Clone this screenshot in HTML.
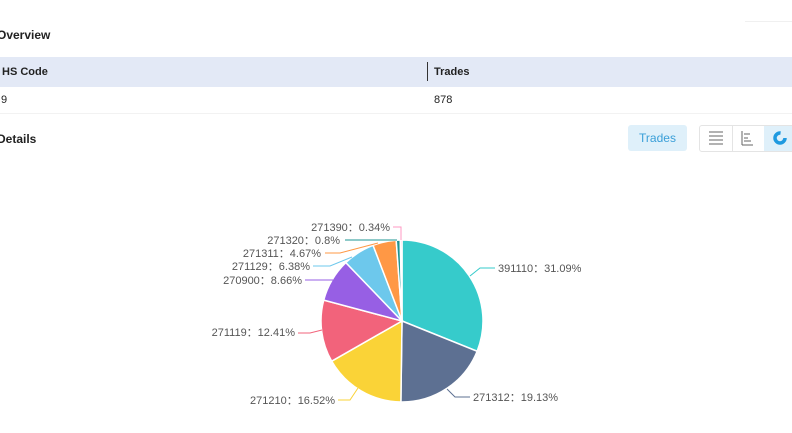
<!DOCTYPE html>
<html><head><meta charset="utf-8"><style>
body{margin:0;width:792px;height:433px;background:#fff;overflow:hidden;position:relative;font-family:"Liberation Sans","DejaVu Sans",sans-serif;color:#222}
.a{position:absolute}
.h{font-weight:bold;font-size:12px;color:#222}
</style></head><body>
<div class="a" style="left:745px;top:21px;width:47px;height:1px;background:#f0f0f0"></div>
<div class="a h" style="left:-3px;top:28px">Overview</div>
<div class="a" style="left:0;top:57px;width:792px;height:30px;background:#e3e9f6"></div>
<div class="a h" style="left:2px;top:66px;font-size:11px">HS Code</div>
<div class="a" style="left:427px;top:62px;width:1px;height:19px;background:#333"></div>
<div class="a h" style="left:434px;top:66px;font-size:11px">Trades</div>
<div class="a" style="left:0;top:87px;width:792px;height:26px;border-bottom:1px solid #f2f2f2"></div>
<div class="a" style="left:1px;top:94px;font-size:11px">9</div>
<div class="a" style="left:434px;top:94px;font-size:11px">878</div>
<div class="a h" style="left:-3px;top:132px">Details</div>
<div class="a" style="left:628px;top:125px;width:59px;height:26px;background:#dff0fa;border-radius:3px;color:#3a9fd8;font-size:12px;text-align:center;line-height:26px">Trades</div>
<div class="a" style="left:699px;top:125px;width:100px;height:25px;border:1px solid #e4e4e4;border-radius:3px"></div>
<div class="a" style="left:732px;top:126px;width:1px;height:25px;background:#e4e4e4"></div>
<div class="a" style="left:764px;top:126px;width:28px;height:25px;background:#dff0fa"></div>
<svg class="a" style="left:0;top:0" width="792" height="433">
<g stroke="#666" stroke-width="1">
<line x1="709" y1="132" x2="723" y2="132"/><line x1="709" y1="136" x2="723" y2="136"/><line x1="709" y1="140" x2="723" y2="140"/><line x1="709" y1="144" x2="723" y2="144"/>
<line x1="742" y1="131" x2="742" y2="145"/><line x1="742" y1="145" x2="753" y2="145"/><line x1="744" y1="134" x2="750" y2="134"/><line x1="744" y1="138" x2="748" y2="138"/><line x1="744" y1="141" x2="751" y2="141"/>
</g>
<circle cx="780" cy="138" r="5" fill="none" stroke="#1f9ae0" stroke-width="3.5" stroke-dasharray="24 8"/>
<g id="pie"></g>
<g fill="none" stroke-width="1">
<polyline stroke="#36cbcb" points="470,276 480,268 495,268"/>
<polyline stroke="#5d7092" points="447,389 455,397 470,397"/>
<polyline stroke="#fad337" points="358,388 350,400 338,400"/>
<polyline stroke="#f2637b" points="322,330 310,333 298,333"/>
<polyline stroke="#975fe4" points="333,280 318,280 305,280"/>
<polyline stroke="#6dc8ec" points="352,257 330,266 313,266"/>
<polyline stroke="#ff9845" points="378,243 340,253 325,253"/>
<polyline stroke="#1e9493" points="397,240 360,240 345,240"/>
<polyline stroke="#ff99c3" points="401,240 401,227 393,227"/>
</g>
<g font-size="11" fill="#555">
<text x="498" y="272">391110：31.09%</text>
<text x="473" y="401">271312：19.13%</text>
<text x="335" y="404" text-anchor="end">271210：16.52%</text>
<text x="295" y="336" text-anchor="end">271119：12.41%</text>
<text x="302" y="284" text-anchor="end">270900：8.66%</text>
<text x="310" y="270" text-anchor="end">271129：6.38%</text>
<text x="321" y="257" text-anchor="end">271311：4.67%</text>
<text x="340" y="244" text-anchor="end">271320：0.8%</text>
<text x="390" y="231" text-anchor="end">271390：0.34%</text>
</g>
</svg>
<script>
var d=[[31.09,"#36cbcb"],[19.13,"#5d7092"],[16.52,"#fad337"],[12.41,"#f2637b"],[8.66,"#975fe4"],[6.38,"#6dc8ec"],[4.67,"#ff9845"],[0.8,"#1e9493"],[0.34,"#ff99c3"]];
var cx=402,cy=321,r=81,a=0,s="",t=0;d.forEach(function(e){t+=e[0]});
d.forEach(function(e){var b=a+e[0]/t*2*Math.PI;
var x1=cx+r*Math.sin(a),y1=cy-r*Math.cos(a),x2=cx+r*Math.sin(b),y2=cy-r*Math.cos(b);
s+='<path d="M'+cx+','+cy+'L'+x1+','+y1+'A'+r+','+r+' 0 '+((b-a)>Math.PI?1:0)+' 1 '+x2+','+y2+'Z" fill="'+e[1]+'" stroke="#fff" stroke-width="1.5"/>';a=b;});
document.getElementById("pie").innerHTML=s;
</script>
</body></html>
